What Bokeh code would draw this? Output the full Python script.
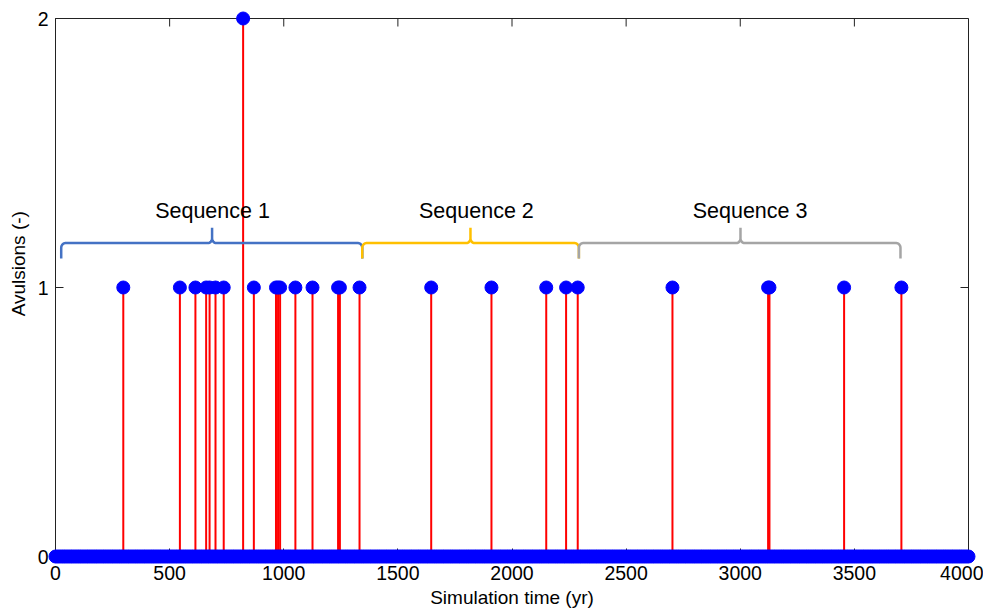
import numpy as np
from bokeh.plotting import figure
from bokeh.models import Range1d, FixedTicker, ColumnDataSource
from bokeh.core.properties import value
from bokeh.embed import file_html
from bokeh.resources import INLINE

# ---------------- data ----------------
avulsion_times = [297, 545, 613, 660, 675, 701, 737, 822, 869, 966, 975, 984,
                  1051, 1126, 1238, 1246, 1332, 1646, 1910, 2150, 2237, 2288,
                  2703, 3122, 3128, 3455, 3706]
avulsion_counts = [1, 1, 1, 1, 1, 1, 1, 2, 1, 1, 1, 1,
                   1, 1, 1, 1, 1, 1, 1, 1, 1, 1,
                   1, 1, 1, 1, 1]
# time steps without avulsion (value 0)
time_start, time_end, time_step = 0, 4000, 10
x_ticks = [0, 500, 1000, 1500, 2000, 2500, 3000, 3500, 4000]
y_ticks = [0, 1, 2]

seq_names = ["Sequence 1", "Sequence 2", "Sequence 3"]
seq_start = [25, 1344, 2293]
seq_mid = [686, 1818, 3001]
seq_end = [1344, 2293, 3702]
seq_label_x = [688, 1844, 3043]
seq_colors = ["#4472C4", "#FFC000", "#A5A5A5"]

FONT = "Liberation Sans"
AXC = "#222222"

zero_times = np.arange(time_start, time_end + time_step, time_step)
zero_vals = np.zeros(len(zero_times))

all_t = np.concatenate([zero_times, np.array(avulsion_times, dtype=float)])
all_v = np.concatenate([zero_vals, np.array(avulsion_counts, dtype=float)])

FW, FH = 913, 538
X0, X1, Y0, Y1 = 0, 4000, 0, 2
p = figure(frame_width=FW, frame_height=FH,
           x_range=Range1d(X0, X1), y_range=Range1d(Y0, Y1),
           output_backend="svg", toolbar_location=None,
           min_border_left=55, min_border_top=18, min_border_right=15,
           min_border_bottom=2)
p.xgrid.grid_line_color = None
p.ygrid.grid_line_color = None
p.outline_line_color = AXC
p.outline_line_width = 1
p.background_fill_color = "white"
p.border_fill_color = "white"

# stems
stem_src = ColumnDataSource(dict(x=avulsion_times, y=avulsion_counts,
                                 y0=[0] * len(avulsion_times)))
p.segment(x0="x", y0="y0", x1="x", y1="y", source=stem_src,
          line_color="#FF0000", line_width=2)

# tick marks on top and right edges (inward, 8 px)
tick_px = 8
dy = tick_px * (Y1 - Y0) / FH
dx = tick_px * (X1 - X0) / FW
p.segment(x0=x_ticks, y0=[Y1] * len(x_ticks), x1=x_ticks,
          y1=[Y1 - dy] * len(x_ticks), line_color=AXC, line_width=1)
p.segment(x0=[X1] * len(y_ticks), y0=y_ticks, x1=[X1 - dx] * len(y_ticks),
          y1=y_ticks, line_color=AXC, line_width=1)

# braces
def brace(xa, xm, xb, yb, yh, yt, rx, ry, n=10):
    xs, ys = [xa], [yb]
    th = np.linspace(np.pi, np.pi / 2, n)
    xs += list(xa + rx + rx * np.cos(th)); ys += list(yh - ry + ry * np.sin(th))
    th = np.linspace(-np.pi / 2, 0, n)
    xs += list(xm - rx + rx * np.cos(th)); ys += list(yh + ry + ry * np.sin(th))
    xs += [xm]; ys += [yt]
    th = np.linspace(np.pi, 1.5 * np.pi, n)
    xs += list(xm + rx + rx * np.cos(th)); ys += list(yh + ry + ry * np.sin(th))
    th = np.linspace(np.pi / 2, 0, n)
    xs += list(xb - rx + rx * np.cos(th)); ys += list(yh - ry + ry * np.sin(th))
    xs += [xb]; ys += [yb]
    return xs, ys

for xa, xm, xb, c in zip(seq_start, seq_mid, seq_end, seq_colors):
    bx, by = brace(xa, xm, xb, 1.108, 1.165, 1.222, 18, 0.018)
    p.line(bx, by, line_color=c, line_width=2.5)

txt_src = ColumnDataSource(dict(x=seq_label_x, y=[1.283] * 3, t=seq_names))
p.text(x="x", y="y", text="t", source=txt_src, text_font=value(FONT),
       text_font_size="21.5px", text_align="center", text_baseline="middle",
       text_color="black")

# markers (not clipped, like MATLAB)
p.scatter(all_t, all_v, size=13, fill_color="#0000FF", line_color="#0000FF",
          level="overlay")

# axes styling
def style(ax):
    ax.axis_line_color = AXC
    ax.major_tick_line_color = AXC
    ax.major_tick_in = tick_px
    ax.major_tick_out = 0
    ax.minor_tick_line_color = None
    ax.major_label_text_font = FONT
    ax.major_label_text_color = "black"
    ax.major_label_text_font_size = "19.5px"
    ax.axis_label_text_font = FONT
    ax.axis_label_text_font_style = "normal"
    ax.axis_label_text_font_size = "19px"
    ax.axis_label_text_color = "black"

p.xaxis.ticker = FixedTicker(ticks=x_ticks)
p.yaxis.ticker = FixedTicker(ticks=y_ticks)
p.xaxis.axis_label = "Simulation time (yr)"
# leading no-break spaces move the label up, as in the reference
p.yaxis.axis_label = "\u00a0" * 9 + "Avulsions (-)"
style(p.xaxis[0])
style(p.yaxis[0])
p.xaxis.major_label_standoff = 9
p.xaxis.axis_label_standoff = 4
p.yaxis.major_label_standoff = 7
p.yaxis.axis_label_standoff = 6

open("out.html", "w").write(file_html(p, INLINE))
